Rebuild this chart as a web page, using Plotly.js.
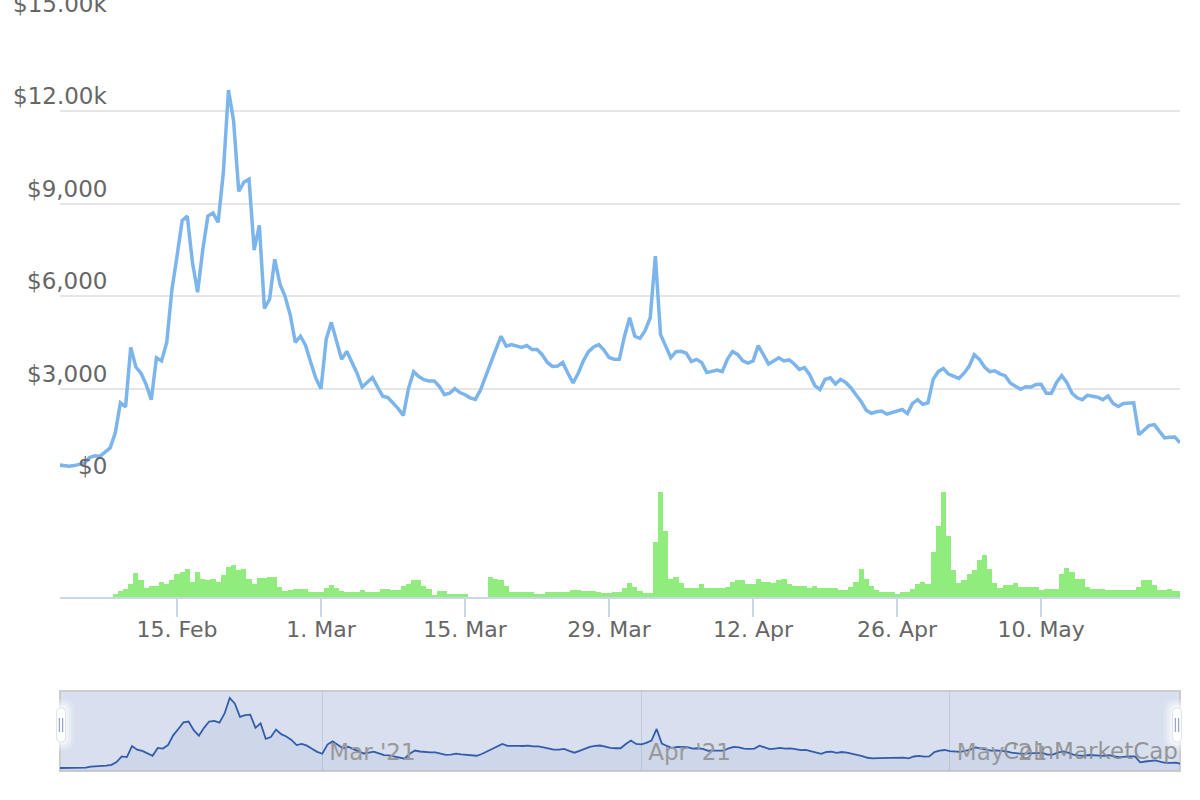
<!DOCTYPE html>
<html>
<head>
<meta charset="utf-8">
<script src="https://cdn.plot.ly/plotly-3.0.1.min.js"></script>
<style>
html,body{margin:0;padding:0;background:#fff;}
#chart{width:1200px;height:800px;}
</style>
</head>
<body>
<div id="chart"></div>
<script>
// ---- data (12-hour samples starting 2021-02-03 12:00) ----
const seriesStart = [2021, 1, 3, 12]; // year, month index, day, hour (UTC)
const stepHours = 12;

const priceUSD = [
  520,510,480,500,530,580,760,820,800,950,
  1075,1565,2540,2410,4340,3700,3500,3130,2640,4000,
  3900,4500,6200,7300,8450,8600,7100,6130,7500,8600,
  8700,8400,10000,12690,11700,9400,9700,9800,7500,8300,
  5600,5900,7200,6400,6000,5400,4500,4700,4400,3850,
  3330,3000,4600,5150,4500,3950,4210,3850,3500,3050,
  3200,3360,3050,2750,2710,2540,2350,2130,3000,3550,
  3390,3290,3250,3250,3070,2800,2850,3000,2870,2800,
  2700,2650,2950,3400,3800,4270,4700,4380,4430,4370,
  4340,4400,4270,4270,4100,3850,3720,3730,3850,3500,
  3180,3500,3900,4200,4350,4430,4250,4010,3950,3950,
  4700,5300,4700,4630,4880,5300,7300,4760,4350,4000,
  4200,4210,4150,3880,3950,3850,3520,3550,3600,3550,
  3950,4200,4110,3900,3830,3900,4400,4100,3800,3900,
  4000,3900,3930,3800,3620,3680,3450,3100,2970,3300,
  3350,3150,3300,3200,3030,2800,2580,2300,2200,2250,
  2270,2170,2220,2250,2320,2190,2520,2640,2490,2540,
  3300,3550,3650,3470,3400,3330,3500,3720,4100,3950,
  3700,3550,3580,3480,3420,3180,3080,2980,3060,3050,
  3130,3140,2850,2850,3200,3420,3200,2850,2700,2640,
  2780,2740,2720,2640,2760,2520,2420,2520,2540,2540,
  1500,1650,1800,1830,1600,1400,1420,1430,1240
];

const volumeM = [
  0,0,0,0,0,0,0,0,0,0,
  0,3,6,8,13,24,17,9,11,11,
  15,13,17,23,25,28,15,25,18,17,
  18,15,22,30,32,27,28,18,13,19,
  19,20,20,10,6,7,8,8,8,5,
  5,5,9,12,9,6,5,5,5,7,
  5,5,5,8,8,7,7,11,13,17,
  17,11,8,2,6,6,3,3,3,3,
  0,0,0,0,20,18,17,11,5,5,
  5,5,5,3,3,5,5,5,5,5,
  7,7,6,6,6,5,4,4,5,5,
  9,14,10,6,4,4,55,104,65,18,
  20,14,9,9,9,13,9,9,9,9,
  10,15,17,17,13,13,18,15,15,14,
  17,18,13,11,11,11,9,11,9,9,
  9,9,7,7,10,15,28,18,11,7,
  5,5,5,3,5,5,8,13,15,13,
  45,70,104,60,27,14,17,23,27,37,
  42,28,14,9,12,12,14,10,10,10,
  10,7,8,8,8,23,29,25,18,18,
  10,8,8,8,7,7,7,7,7,7,
  10,17,17,12,7,7,8,6,6
];

const xTickVals = ['2021-02-15','2021-03-01','2021-03-15','2021-03-29','2021-04-12','2021-04-26','2021-05-10'];
const xTickText = ['15. Feb','1. Mar','15. Mar','29. Mar','12. Apr','26. Apr','10. May'];
const yTickVals = [0,3000,6000,9000,12000,15000];
const yTickText = ['$0','$3,000','$6,000','$9,000','$12.00k','$15.00k'];
const navTickVals = ['2021-03-01','2021-04-01','2021-05-01'];
const navTickText = ["Mar '21","Apr '21","May '21"];
const watermark = 'CoinMarketCap';

// ---- build timestamps ----
function pad(n){return (n<10?'0':'')+n;}
const t0 = Date.UTC(seriesStart[0], seriesStart[1], seriesStart[2], seriesStart[3]);
const times = priceUSD.map((_, i) => {
  const d = new Date(t0 + i*stepHours*3600000);
  return d.getUTCFullYear()+'-'+pad(d.getUTCMonth()+1)+'-'+pad(d.getUTCDate())+' '+pad(d.getUTCHours())+':00';
});

const mainRange = ['2021-02-03 15:00','2021-05-23 12:00'];
const navRange = ['2021-02-03 12:00','2021-05-23 09:00'];

const FONT = '"DejaVu Sans", "Liberation Sans", sans-serif';

const traces = [
  {type:'bar', x:times, y:volumeM, xaxis:'x', yaxis:'y2',
   width: stepHours*3600000, marker:{color:'#90ed7d', line:{width:0}}, hoverinfo:'skip'},
  {type:'scatter', mode:'lines', x:times, y:priceUSD, xaxis:'x', yaxis:'y',
   line:{color:'#7cb5ec', width:3.5}, hoverinfo:'skip'},
  {type:'scatter', mode:'lines', x:times, y:priceUSD, xaxis:'x2', yaxis:'y3',
   line:{color:'#335cad', width:1.8}, fill:'tozeroy', fillcolor:'rgba(51,92,173,0.06)', hoverinfo:'skip'}
];

// pixel helpers for decorative navigator handles (paper coords)
const PL=60, PW=1120, PB=771, PH=752;
const px = v => (v-PL)/PW;
const py = v => (PB-v)/PH;
function rrect(x0,y0,x1,y1,r){
  const P=(x,y)=>px(x)+','+py(y);
  return 'M'+P(x0+r,y0)+' L'+P(x1-r,y0)+' Q'+P(x1,y0)+' '+P(x1,y0+r)+
         ' L'+P(x1,y1-r)+' Q'+P(x1,y1)+' '+P(x1-r,y1)+
         ' L'+P(x0+r,y1)+' Q'+P(x0,y1)+' '+P(x0,y1-r)+
         ' L'+P(x0,y0+r)+' Q'+P(x0,y0)+' '+P(x0+r,y0)+' Z';
}
function handle(cx){
  const out=[];
  [[9,0.18],[6,0.3],[3,0.45]].forEach(([g,a])=>{
    out.push({type:'path', xref:'paper', yref:'paper', path:rrect(cx-4.5-g,708-g,cx+4.5+g,742+g,4+g),
      fillcolor:'rgba(255,255,255,'+a+')', line:{width:0}, layer:'above'});
  });
  out.push({type:'path', xref:'paper', yref:'paper', path:rrect(cx-4.5,708,cx+4.5,742,4),
    fillcolor:'#ffffff', line:{color:'rgba(220,224,232,0.9)', width:1}, layer:'above'});
  [cx-1.6, cx+1.6].forEach(lx=>{
    out.push({type:'line', xref:'paper', yref:'paper', x0:px(lx), x1:px(lx), y0:py(732), y1:py(718),
      line:{color:'#9aa6c4', width:1.3}, layer:'above'});
  });
  return out;
}

const shapes = [
  {type:'rect', xref:'x2 domain', yref:'y3 domain', x0:0, x1:1, y0:0, y1:1,
   fillcolor:'#d8dfee', line:{color:'#cccccc', width:2}, layer:'below'}
].concat(handle(61), handle(1177));

const annotations = yTickVals.map((v,i)=>({
  xref:'paper', x:px(109), xanchor:'right', yref:'y', y:v, yanchor:'bottom', yshift:0,
  text:yTickText[i], showarrow:false, font:{family:FONT, size:23, color:'#666666'}
}));
annotations.push({xref:'paper', x:1, xanchor:'right', yref:'paper', y:py(751), yanchor:'middle',
  text:watermark, showarrow:false, font:{family:FONT, size:23, color:'rgba(135,135,135,0.85)'}});

const layout = {
  width:1200, height:800,
  margin:{l:PL, r:20, t:19, b:29, pad:0},
  paper_bgcolor:'#ffffff', plot_bgcolor:'rgba(0,0,0,0)',
  showlegend:false, bargap:0,
  font:{family:FONT, color:'#666666'},
  xaxis:{domain:[0,1], anchor:'y2', type:'date', range:mainRange,
    tickmode:'array', tickvals:xTickVals, ticktext:xTickText,
    ticks:'outside', ticklen:18, tickwidth:1.5, tickcolor:'#ccd6eb', ticklabelstandoff:-6,
    showline:true, linecolor:'#ccd6eb', linewidth:2,
    showgrid:false, zeroline:false, tickfont:{family:FONT, size:22, color:'#666666'}},
  yaxis:{domain:[py(481),1], anchor:'x', range:[0,15000],
    tickmode:'array', tickvals:yTickVals, showticklabels:false, ticks:'',
    showgrid:true, gridcolor:'#e6e6e6', gridwidth:2, zeroline:false},
  yaxis2:{domain:[py(597),py(481)], anchor:'x', range:[0,115],
    showgrid:false, showticklabels:false, zeroline:false, ticks:''},
  xaxis2:{domain:[0,1], anchor:'y3', type:'date', range:navRange,
    tickmode:'array', tickvals:navTickVals, ticktext:navTickText,
    ticklabelposition:'inside right', ticklabelshift:7, ticks:'',
    showgrid:true, gridcolor:'#c3cad8', gridwidth:1, showline:false, zeroline:false,
    tickfont:{family:FONT, size:23, color:'#999999'}},
  yaxis3:{domain:[0,py(691)], anchor:'x2', range:[0,13900],
    showgrid:false, showticklabels:false, zeroline:false, ticks:''},
  shapes:shapes,
  annotations:annotations
};

Plotly.newPlot('chart', traces, layout, {staticPlot:true, displayModeBar:false});
</script>
</body>
</html>
